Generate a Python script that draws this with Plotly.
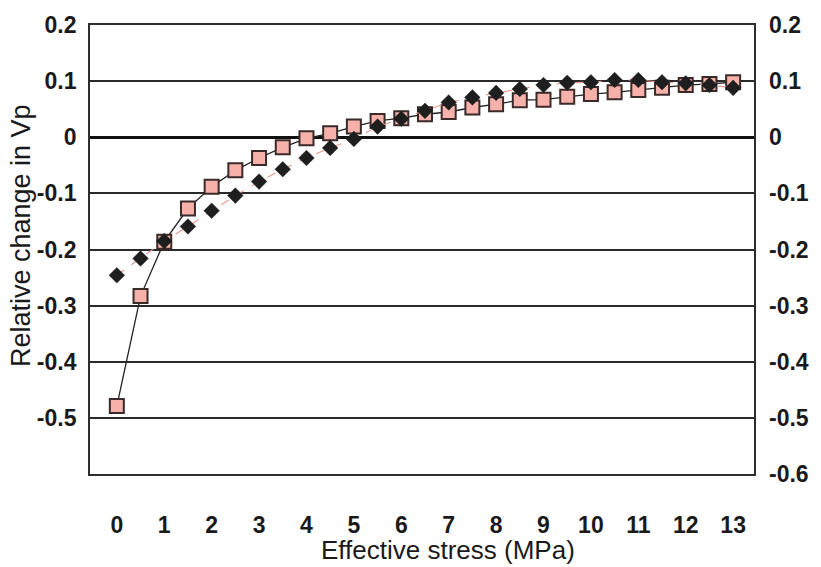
import plotly.graph_objects as go

# Effective stress (MPa) at each measurement step
stress = [0, 0.5, 1, 1.5, 2, 2.5, 3, 3.5, 4, 4.5, 5, 5.5, 6, 6.5,
          7, 7.5, 8, 8.5, 9, 9.5, 10, 10.5, 11, 11.5, 12, 12.5, 13]

# Relative change in Vp, square-marker series
vp_squares = [-0.479, -0.283, -0.186, -0.127, -0.088, -0.059, -0.037, -0.018,
              -0.002, 0.007, 0.019, 0.029, 0.034, 0.041, 0.045, 0.053, 0.059,
              0.066, 0.067, 0.072, 0.077, 0.080, 0.084, 0.088, 0.093, 0.095, 0.098]

# Relative change in Vp, diamond-marker series
vp_diamonds = [-0.246, -0.216, -0.185, -0.159, -0.131, -0.104, -0.079, -0.057,
               -0.037, -0.019, -0.003, 0.019, 0.033, 0.047, 0.062, 0.071, 0.079,
               0.086, 0.093, 0.097, 0.098, 0.102, 0.102, 0.098, 0.096, 0.093, 0.088]

x_ticks = list(range(0, 14))
y_ticks_left = [0.2, 0.1, 0, -0.1, -0.2, -0.3, -0.4, -0.5]
y_ticks_right = [0.2, 0.1, 0, -0.1, -0.2, -0.3, -0.4, -0.5, -0.6]

INK = "#1a1a1a"
TICK_FONT = dict(family="Liberation Sans, Arial", size=23, color=INK, weight="bold")
XTITLE_FONT = dict(family="Liberation Sans, Arial", size=26, color=INK)
YTITLE_FONT = dict(family="Liberation Sans, Arial", size=27, color=INK)

fig = go.Figure()

fig.add_trace(go.Scatter(
    x=stress, y=vp_squares, mode="lines+markers", name="Series 1",
    line=dict(color="#222222", width=1.3),
    marker=dict(symbol="square", size=14, color="#f6b2aa",
                line=dict(color="#3a2a2a", width=2)),
))

fig.add_trace(go.Scatter(
    x=stress, y=vp_diamonds, mode="lines+markers", name="Series 2",
    line=dict(color="#e79a90", width=1.1, dash="dash"),
    marker=dict(symbol="diamond", size=12, color="#1e1e1e",
                line=dict(color="#1e1e1e", width=0.5)),
))

# invisible trace so the right-hand axis is drawn
fig.add_trace(go.Scatter(
    x=stress, y=vp_squares, yaxis="y2", mode="markers",
    marker=dict(opacity=0), hoverinfo="skip", showlegend=False,
))

fig.update_layout(
    width=821, height=567,
    margin=dict(l=90, r=63, t=13, b=93),
    paper_bgcolor="white", plot_bgcolor="white",
    showlegend=False,
    xaxis=dict(
        range=[-0.566, 13.44], tickvals=x_ticks, ticks="",
        showgrid=False, zeroline=False,
        showline=True, mirror=True, linecolor="#2e2e2e", linewidth=1.8,
        tickfont=TICK_FONT, ticklabelstandoff=29,
    ),
    yaxis=dict(
        range=[-0.6, 0.2], tickvals=y_ticks_left,
        ticktext=[f"{v:g}" for v in y_ticks_left], ticks="",
        showgrid=True, gridcolor="#2a2a2a", gridwidth=1.7,
        zeroline=True, zerolinecolor="#111111", zerolinewidth=2.8,
        showline=True, mirror=True, linecolor="#2e2e2e", linewidth=1.8,
        tickfont=TICK_FONT, ticklabelstandoff=7,
    ),
    yaxis2=dict(
        range=[-0.6, 0.2], tickvals=y_ticks_right,
        ticktext=[f"{v:g}" for v in y_ticks_right], ticks="",
        overlaying="y", side="right",
        showgrid=False, zeroline=False, showline=False,
        tickfont=TICK_FONT, ticklabelstandoff=14,
    ),
    annotations=[
        dict(text="Effective stress (MPa)", xref="paper", yref="paper",
             x=0.539, y=-0.169, xanchor="center", yanchor="middle",
             showarrow=False, font=XTITLE_FONT),
        dict(text="Relative change in Vp", xref="paper", yref="paper",
             x=-0.104, y=0.532, xanchor="center", yanchor="middle",
             textangle=-90, showarrow=False, font=YTITLE_FONT),
    ],
)

fig.write_html("out.html")
